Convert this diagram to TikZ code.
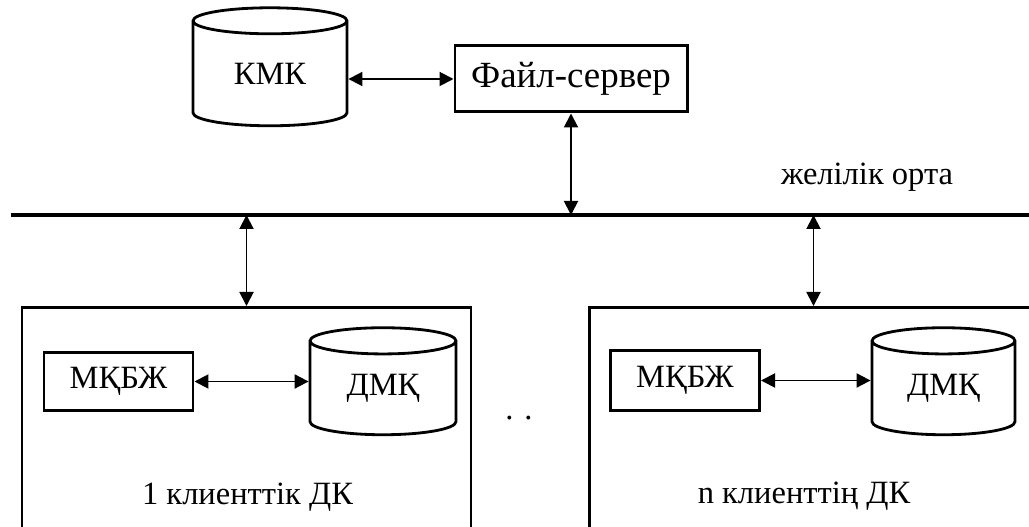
\documentclass[tikz,border=0pt]{standalone}
\usepackage{fontspec}
\setmainfont{Liberation Serif}
\usepackage{tikz}
\usetikzlibrary{shapes.geometric, arrows.meta}
\tikzset{
  box/.style={rectangle, draw, fill=white, line width=1.7pt,
    minimum width=2.98cm, minimum height=1.16cm, inner sep=0pt},
  db/.style={cylinder, shape border rotate=90, draw, fill=white,
    line width=1.6pt, shape aspect=0.36, inner sep=0pt},
  client/.style={rectangle, draw, line width=1.7pt, anchor=north,
    minimum width=8.98cm, minimum height=4.7cm},
  link/.style={<->, >={Triangle[length=0.28cm, width=0.28cm]}, line width=1.1pt},
  bus/.style={line width=2pt}
}

\begin{document}
\begin{tikzpicture}[every node/.style={font=\fontsize{18.5}{20}\selectfont}]
    \clip (0,0) rectangle (20.58,10.54);

    % Server side
    \node[db, minimum width=3.08cm, minimum height=2.36cm] (kmk) at (5.4,9.06) {КМК};
    \node[box, minimum width=4.64cm, minimum height=1.32cm,
      font=\fontsize{21}{23}\selectfont] (fs) at (11.42,8.96) {Файл-сервер};
    \draw[link] (fs.west -| kmk.east) -- (fs.west);

    % Network
    \coordinate (netl) at (0.22,6.24);
    \coordinate (netr) at (20.7,6.24);
    \draw[bus] (netl) -- (netr);
    \node[anchor=base] (netlbl) at (17.34,6.84) {желілік орта};
    \draw[link] (fs.south) -- (fs.south |- netl);

    % Client 1
    \node[client] (lclient) at (4.93,4.42) {};
    \draw[link] (lclient.north |- netl) -- (lclient.north);
    \node[box] (lmkbj) at (2.37,2.91) {МҚБЖ};
    \node[db, minimum width=2.92cm, minimum height=2.14cm] (ldmk) at (7.66,2.77) {ДМҚ};
    \draw[link] (lmkbj.east) -- (lmkbj.east -| ldmk.west);
    \node[anchor=base] (llbl) at (4.95,0.44) {1 клиенттік ДК};

    \node (dots) at (10.38,2.18) {. .};

    % Client n
    \node[client] (rclient) at (16.27,4.42) {};
    \draw[link] (rclient.north |- netl) -- (rclient.north);
    \node[box, minimum height=1.2cm] (rmkbj) at (13.7,2.93) {МҚБЖ};
    \node[db, minimum width=2.86cm, minimum height=2.14cm] (rdmk) at (18.87,2.77) {ДМҚ};
    \draw[link] (rmkbj.east) -- (rmkbj.east -| rdmk.west);
    \node[anchor=base] (rlbl) at (16.08,0.46) {n клиенттің ДК};
  \end{tikzpicture}
\end{document}
